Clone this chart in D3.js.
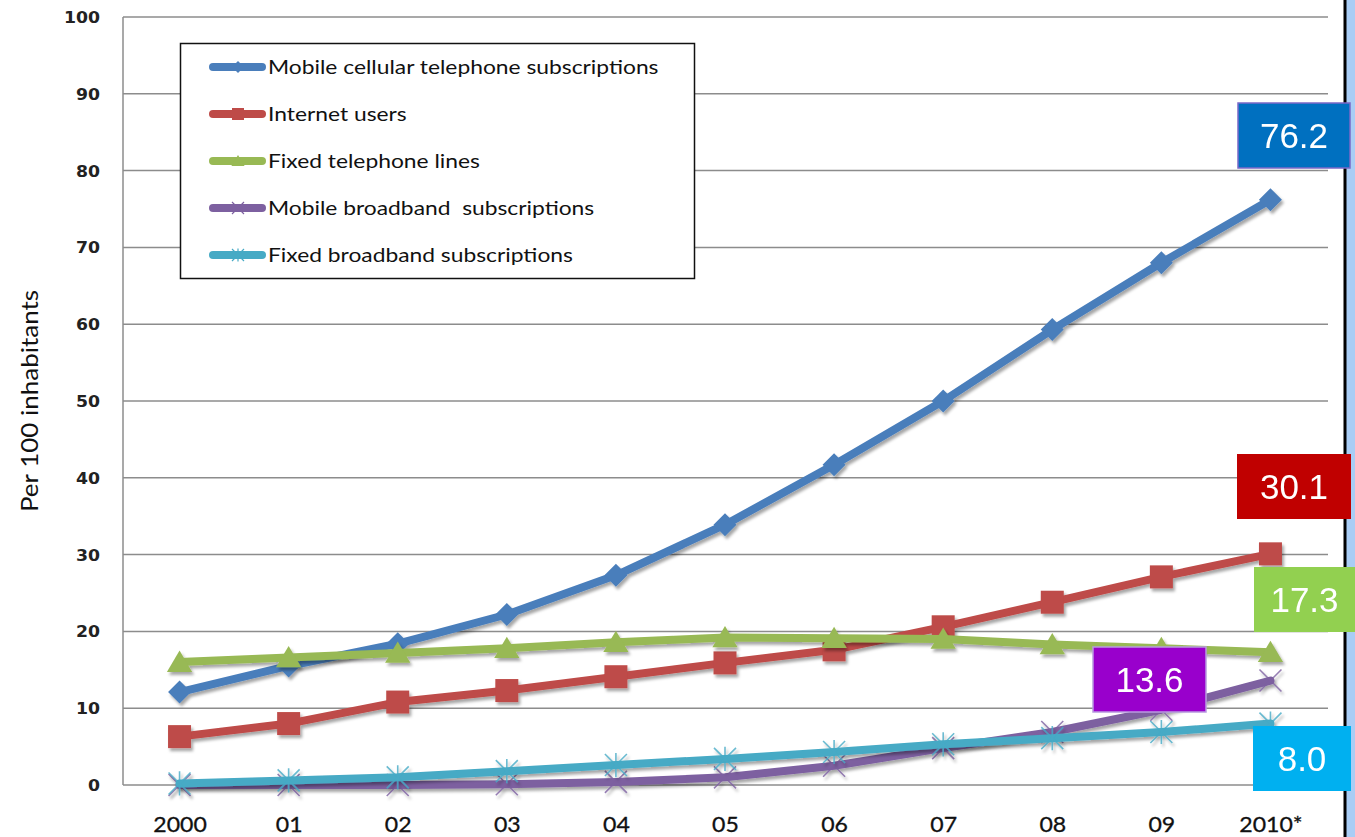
<!DOCTYPE html>
<html>
<head>
<meta charset="utf-8">
<script src="https://cdnjs.cloudflare.com/ajax/libs/d3/7.8.5/d3.min.js"></script>
<style>
	body { margin: 0; background: #fff; }
	svg { display: block; }
	.grid line { stroke: #8c8c8c; stroke-width: 1.5; }
	.ytick { font-family: "DejaVu Sans", sans-serif; font-weight: bold; font-size: 15px; fill: #222; }
	.xtick { font-family: Lato, "Open Sans", sans-serif; font-size: 22px; fill: #111; }
	.legend text { font-family: Lato, "Open Sans", sans-serif; font-size: 19px; fill: #111; white-space: pre; }
	.callout text { font-family: "Liberation Sans", Arial, sans-serif; font-size: 35px; fill: #fff; }
</style>
</head>
<body>
<svg width="1355" height="837"></svg>
<script>
var years           = ["2000", "01", "02", "03", "04", "05", "06", "07", "08", "09", "2010*"]
var mobileCellular  = [12.1, 15.5, 18.4, 22.2, 27.3, 33.9, 41.7, 50.0, 59.3, 68.0, 76.2]
var internetUsers   = [6.3, 8.0, 10.8, 12.3, 14.1, 15.9, 17.6, 20.6, 23.8, 27.1, 30.1]
var fixedTelephone  = [16.0, 16.6, 17.2, 17.8, 18.6, 19.2, 19.1, 19.0, 18.3, 17.8, 17.3]
var mobileBroadband = [0, 0, 0, 0.1, 0.4, 1.0, 2.5, 4.8, 6.9, 9.8, 13.6]
var fixedBroadband  = [0.2, 0.6, 1.0, 1.8, 2.6, 3.4, 4.3, 5.3, 6.1, 6.9, 8.0]
var seriesNames     = ["Mobile cellular telephone subscriptions", "Internet users", "Fixed telephone lines",
                       "Mobile broadband  subscriptions", "Fixed broadband subscriptions"]
var yTicks          = [0, 10, 20, 30, 40, 50, 60, 70, 80, 90, 100]
var yTitle          = "Per 100 inhabitants"

var series = [
	{name: seriesNames[0], values: mobileCellular,  color: "#4a7ebb", marker: "diamond",  box: "#0070c0", boxStroke: "#7a68c8", bx: 1238, by: 103, bw: 112},
	{name: seriesNames[1], values: internetUsers,   color: "#be4b48", marker: "square",   box: "#c00000", boxStroke: null,      bx: 1237, by: 454, bw: 114},
	{name: seriesNames[2], values: fixedTelephone,  color: "#98b954", marker: "triangle", box: "#92d050", boxStroke: null,      bx: 1254, by: 567, bw: 101},
	{name: seriesNames[3], values: mobileBroadband, color: "#7d60a0", marker: "cross",    box: "#9900cc", boxStroke: "#b89be0", bx: 1093, by: 647, bw: 113},
	{name: seriesNames[4], values: fixedBroadband,  color: "#46aac5", marker: "star",     box: "#00b0f0", boxStroke: null,      bx: 1253, by: 726, bw: 98}
]

var svg = d3.select("svg")

var x = d3.scalePoint().domain(years).range([125, 1325]).padding(0.5)
var y = d3.scaleLinear().domain([0, 100]).range([785, 17])

// the source picture is a little wider than its fonts, so stretch texts sideways
function stretch(sel, k){
	sel.each(function(){
		var w = this.getComputedTextLength()
		d3.select(this)
			.attr("textLength", w * k)
			.attr("lengthAdjust", "spacingAndGlyphs")
	})
}

var defs = svg.append("defs")
defs.append("filter")
		.attr("id", "shadow")
		.attr("x", "-20%").attr("y", "-20%").attr("width", "140%").attr("height", "140%")
	.append("feDropShadow")
		.attr("dx", 2).attr("dy", 3).attr("stdDeviation", 1.8)
		.attr("flood-color", "#000").attr("flood-opacity", 0.35)

// right border of the slide
svg.append("rect")
	.attr("x", 1346).attr("y", 0).attr("width", 9).attr("height", 837)
	.attr("fill", "#a9cdf5")
svg.append("line")
	.attr("x1", 1345).attr("x2", 1345).attr("y1", 0).attr("y2", 837)
	.attr("stroke", "#000").attr("stroke-width", 3)

// gridlines
svg.append("g")
		.attr("class", "grid")
	.selectAll("line")
		.data(yTicks)
	.enter().append("line")
		.attr("x1", 123)
		.attr("x2", 1328)
		.attr("y1", function(d){ return y(d) })
		.attr("y2", function(d){ return y(d) })

svg.append("line")
	.attr("x1", 123).attr("x2", 123)
	.attr("y1", y(100)).attr("y2", y(0))
	.attr("stroke", "#8c8c8c").attr("stroke-width", 1.5)

// y axis
var yAxis = d3.axisLeft(y).tickValues(yTicks).tickSize(0).tickPadding(0)
var yg = svg.append("g")
	.attr("transform", "translate(100,0)")
	.call(yAxis)
yg.select(".domain").remove()
yg.selectAll("text")
	.attr("class", "ytick")
	.attr("font-size", null).attr("font-family", null)
	.attr("dy", "0.36em")
	.call(stretch, 1.15)

// x axis
var xAxis = d3.axisBottom(x).tickSize(0).tickPadding(0)
var xg = svg.append("g")
	.attr("transform", "translate(0,812)")
	.call(xAxis)
xg.select(".domain").remove()
xg.selectAll("text")
	.attr("class", "xtick")
	.attr("font-size", null).attr("font-family", null)
	.attr("dy", "0.9em")
	.attr("stroke", "#111").attr("stroke-width", 0.3)
	.call(stretch, 1.05)

svg.append("text")
	.attr("transform", "translate(38," + y(50) + ") rotate(-90)")
	.attr("text-anchor", "middle")
	.attr("font-family", "Lato, 'Open Sans', sans-serif")
	.attr("font-size", 23)
	.attr("fill", "#111")
	.text(yTitle)
	.call(stretch, 1.13)

function markerPath(type, s){
	if (type == "diamond")  return "M0," + (-s) + "L" + s + ",0L0," + s + "L" + (-s) + ",0Z"
	if (type == "square")   return "M" + (-s) + "," + (-s) + "H" + s + "V" + s + "H" + (-s) + "Z"
	if (type == "triangle") return "M0," + (-s) + "L" + (s * 1.1) + "," + (s * 0.85) + "H" + (-s * 1.1) + "Z"
	if (type == "cross")    return "M" + (-s) + "," + (-s) + "L" + s + "," + s + "M" + (-s) + "," + s + "L" + s + "," + (-s)
	return "M" + (-s) + "," + (-s) + "L" + s + "," + s + "M" + (-s) + "," + s + "L" + s + "," + (-s) + "M0," + (-s * 1.1) + "V" + (s * 1.1)
}
function isOpen(type){ return type == "cross" || type == "star" }

var line = d3.line()
	.x(function(d, i){ return x(years[i]) })
	.y(function(d){ return y(d) })

var sg = svg.selectAll(".series")
		.data(series)
	.enter().append("g")
		.attr("class", "series")
		.attr("filter", "url(#shadow)")

sg.append("path")
	.attr("d", function(d){ return line(d.values) })
	.attr("fill", "none")
	.attr("stroke", function(d){ return d.color })
	.attr("stroke-width", 8)
	.attr("stroke-linejoin", "round")
	.attr("stroke-linecap", "round")

sg.each(function(s){
	d3.select(this).selectAll(".marker")
			.data(s.values)
		.enter().append("path")
			.attr("class", "marker")
			.attr("transform", function(d, i){ return "translate(" + x(years[i]) + "," + y(d) + ")" })
			.attr("d", markerPath(s.marker, isOpen(s.marker) ? 11 : 11.5))
			.attr("fill", isOpen(s.marker) ? "none" : s.color)
			.attr("stroke", isOpen(s.marker) ? s.color : "none")
			.attr("stroke-width", 1.6)
			.attr("stroke-opacity", 0.8)
})

// legend
var legend = svg.append("g").attr("class", "legend")
legend.append("rect")
	.attr("x", 180.5).attr("y", 43.5).attr("width", 514).attr("height", 235)
	.attr("fill", "#fff").attr("stroke", "#111").attr("stroke-width", 1.5)

var li = legend.selectAll(".item")
		.data(series)
	.enter().append("g")
		.attr("class", "item")
		.attr("transform", function(d, i){ return "translate(0," + (67 + i * 47) + ")" })
li.append("line")
	.attr("x1", 213).attr("x2", 262)
	.attr("stroke", function(d){ return d.color })
	.attr("stroke-width", 8)
	.attr("stroke-linecap", "round")
li.append("path")
	.attr("transform", "translate(238,0)")
	.attr("d", function(d){ return markerPath(d.marker, 6) })
	.attr("fill", function(d){ return isOpen(d.marker) ? "none" : d.color })
	.attr("stroke", function(d){ return isOpen(d.marker) ? d.color : "none" })
	.attr("stroke-width", 1.2)
li.append("text")
	.attr("x", 268)
	.attr("dy", "0.35em")
	.text(function(d){ return d.name })
	.call(stretch, 1.2)

// value callouts
var co = svg.selectAll(".callout")
		.data(series)
	.enter().append("g")
		.attr("class", "callout")
co.append("rect")
	.attr("x", function(d){ return d.bx })
	.attr("y", function(d){ return d.by })
	.attr("width", function(d){ return d.bw })
	.attr("height", 65)
	.attr("fill", function(d){ return d.box })
	.attr("stroke", function(d){ return d.boxStroke || "none" })
	.attr("stroke-width", 1.5)
co.append("text")
	.attr("x", function(d){ return d.bx + d.bw / 2 })
	.attr("y", function(d){ return d.by + 33 })
	.attr("dy", "0.35em")
	.attr("text-anchor", "middle")
	.text(function(d){ return d3.format(".1f")(d.values[d.values.length - 1]) })
</script>
</body>
</html>
